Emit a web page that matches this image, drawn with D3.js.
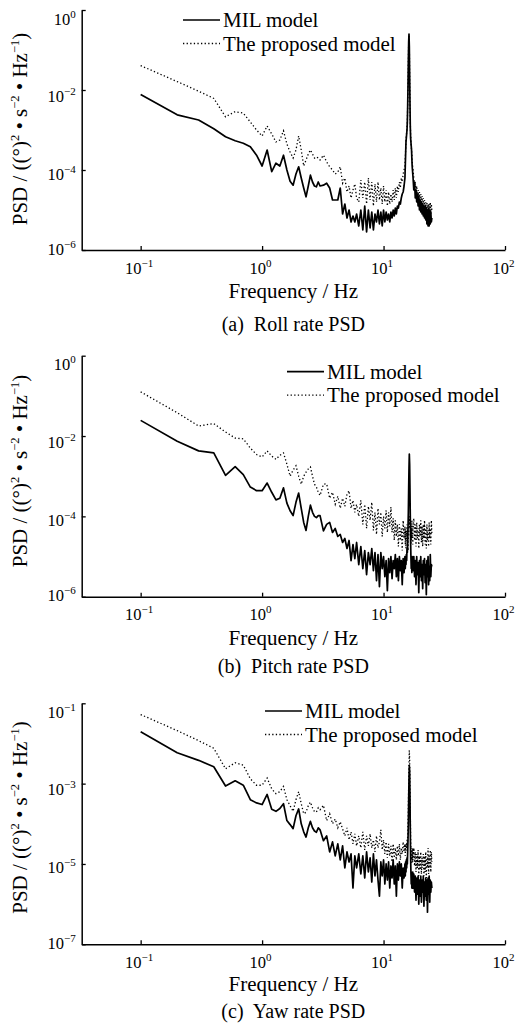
<!DOCTYPE html>
<html>
<head>
<meta charset="utf-8">
<script src="https://cdn.jsdelivr.net/npm/d3@7"></script>
<style>
  body { margin: 0; background: #fff; }
  svg { display: block; }
  svg text { font-family: "Liberation Serif", "Times New Roman", serif; }
</style>
</head>
<body>
<div id="chart"></div>
<script>
// frequency bins (Hz)
const freqHz = [
  0.1,0.2,0.3,0.4,0.5,0.6,0.7,0.8,0.9,1.0,1.1,1.2,1.3,1.4,1.5,1.6,1.7,1.8,1.9,2.0,2.1,2.2,2.3,2.4,2.5,2.6,2.7,2.8,2.9,3.0,
  3.2,3.4,3.6,3.8,4.0,4.2,4.4,4.6,4.8,5.0,5.2,5.4,5.6,5.8,6.0,
  6.25,6.5,6.75,7,7.25,7.5,7.75,8,8.25,8.5,8.75,9,9.25,9.5,9.75,10,10.25,10.5,10.75,11,11.25,11.5,11.75,12,12.25,12.5,12.75,13,13.25,13.5,13.75,14,14.25,14.5,14.75,15,
  15.1,15.2,15.3,15.4,15.5,15.6,15.7,15.8,15.9,16.0,16.1,16.2,16.3,16.4,16.5,16.6,16.7,16.8,16.9,17.0,17.1,17.2,17.3,17.4,17.5,
  17.75,18,18.25,18.5,18.75,19,19.25,19.5,19.75,20,20.25,20.5,20.75,21,21.25,21.5,21.75,22,22.25,22.5,22.75,23,23.25,23.5,23.75,24,24.25,24.5,24.75,25
];

// PSD values as log10 exponents
const rollMilLog = [
  -2.11,-2.62,-2.75,-2.97,-3.17,-3.27,-3.33,-3.42,-3.63,-3.9,-3.5,-4.04,-3.83,-3.9,-3.63,-4.0,-4.28,-4.38,-4.1,-3.92,-4.2,-4.45,-4.67,-4.4,-4.13,-4.3,-4.4,-4.42,-4.3,-4.4,
  -4.38,-4.33,-4.45,-4.75,-4.75,-4.75,-4.45,-5.1,-4.85,-5.2,-5.0,-5.3,-5.15,-5.3,-5.1,
  -5.4,-5.0,-5.5,-4.9,-5.55,-5.0,-5.45,-5.05,-5.5,-5.1,-5.3,-5.0,-5.35,-5.05,-5.4,-5.0,-5.3,-5.05,-5.25,-5.1,-5.3,-5.05,-5.2,-5.0,-5.15,-4.95,-5.1,-4.9,-4.95,-4.8,-4.85,-4.7,-4.6,-4.55,-4.4,-4.2,
  -3.9,-3.6,-3.3,-3.2,-3.1,-3.0,-2.8,-2.4,-1.9,-1.3,-0.8,-0.6,-0.9,-1.6,-2.3,-2.9,-3.2,-3.3,-3.4,-3.5,-3.7,-3.9,-4.0,-4.1,-4.2,
  -4.5,-4.3,-4.7,-4.5,-4.8,-4.6,-4.9,-4.65,-5.0,-4.75,-5.05,-4.8,-5.1,-4.85,-5.15,-4.9,-5.2,-4.9,-5.25,-4.95,-5.35,-5.0,-5.4,-4.95,-5.4,-5.0,-5.35,-5.05,-5.3,-5.2
];
const rollPropLog = [
  -1.39,-1.79,-2.03,-2.21,-2.67,-2.54,-2.58,-2.8,-3.0,-3.15,-2.9,-3.1,-3.3,-3.25,-3.02,-3.35,-3.55,-3.7,-3.5,-3.15,-3.5,-3.9,-3.75,-3.6,-3.5,-3.6,-3.7,-3.67,-3.7,-3.75,
  -3.63,-3.8,-3.92,-4.0,-4.1,-4.05,-3.92,-4.33,-4.2,-4.55,-4.4,-4.7,-4.5,-4.35,-4.7,
  -4.8,-4.25,-4.7,-4.3,-4.85,-4.2,-4.75,-4.3,-4.9,-4.35,-4.8,-4.3,-4.75,-4.45,-4.85,-4.4,-4.8,-4.5,-4.9,-4.55,-4.85,-4.6,-4.8,-4.5,-4.75,-4.45,-4.7,-4.4,-4.55,-4.3,-4.45,-4.2,-4.3,-4.1,-4.0,-3.9,
  -3.7,-3.5,-3.25,-3.15,-3.05,-2.95,-2.75,-2.4,-1.9,-1.3,-0.8,-0.62,-0.9,-1.6,-2.3,-2.8,-3.1,-3.25,-3.4,-3.5,-3.6,-3.75,-3.85,-3.95,-4.0,
  -4.2,-4.45,-4.3,-4.6,-4.4,-4.7,-4.5,-4.75,-4.55,-4.8,-4.6,-4.85,-4.65,-4.9,-4.7,-4.95,-4.75,-5.0,-4.8,-5.05,-4.8,-5.1,-4.85,-5.1,-4.85,-5.15,-4.8,-5.1,-4.85,-5.0
];
const pitchMilLog = [
  -1.61,-2.13,-2.37,-2.42,-2.98,-2.76,-2.96,-3.27,-3.36,-3.36,-3.17,-3.4,-3.59,-3.55,-3.29,-3.67,-3.86,-3.98,-3.65,-3.42,-3.8,-4.15,-4.35,-4.0,-3.72,-3.9,-4.0,-4.03,-3.98,-3.98,
  -4.36,-4.2,-4.15,-4.4,-4.3,-4.5,-4.45,-4.65,-4.55,-4.8,-4.6,-5.1,-4.7,-5.05,-4.65,
  -5.2,-4.75,-5.3,-4.85,-5.45,-4.9,-5.2,-4.8,-5.35,-4.9,-5.6,-4.95,-5.75,-4.9,-5.3,-5.0,-5.5,-5.1,-5.85,-5.05,-5.4,-5.0,-5.55,-5.1,-5.3,-4.95,-5.5,-5.05,-5.6,-5.0,-5.35,-5.1,-5.7,-5.05,-5.4,-5.0,
  -5.3,-5.0,-5.2,-4.95,-5.1,-4.8,-4.9,-4.6,-4.3,-3.9,-3.3,-2.8,-2.45,-2.7,-3.3,-4.0,-4.6,-5.0,-5.3,-5.1,-5.4,-5.0,-5.3,-5.05,-5.35,
  -5.0,-5.5,-5.1,-5.7,-5.0,-5.45,-5.15,-5.9,-5.1,-5.5,-5.0,-5.6,-5.2,-5.8,-5.1,-5.45,-5.05,-5.65,-5.2,-5.95,-5.1,-5.5,-5.0,-5.7,-5.25,-5.6,-4.95,-5.5,-5.2,-5.25
];
const pitchPropLog = [
  -0.9,-1.42,-1.75,-1.69,-1.9,-2.05,-2.07,-2.3,-2.46,-2.52,-2.37,-2.5,-2.58,-2.48,-2.42,-2.7,-3.0,-2.85,-2.74,-3.0,-3.2,-3.0,-2.9,-2.82,-2.77,-3.0,-3.2,-3.27,-3.4,-3.48,
  -3.2,-3.19,-3.55,-3.4,-3.7,-3.5,-3.8,-3.55,-3.75,-3.45,-3.36,-3.8,-3.6,-3.9,-3.7,
  -4.0,-3.6,-4.2,-3.7,-4.3,-3.75,-4.1,-3.65,-4.35,-3.9,-4.45,-3.8,-4.2,-3.9,-4.5,-4.0,-4.3,-3.85,-4.4,-3.9,-4.25,-3.77,-4.4,-4.05,-4.6,-4.1,-4.5,-4.2,-4.75,-4.2,-4.6,-4.3,-4.85,-4.1,-4.55,-4.25,
  -4.7,-4.3,-4.8,-4.4,-4.6,-4.2,-4.5,-4.3,-4.85,-4.4,-4.2,-4.0,-4.1,-4.3,-4.0,-4.5,-4.2,-4.7,-4.3,-4.6,-4.1,-4.5,-4.25,-4.7,-4.3,
  -4.05,-4.6,-4.2,-4.75,-4.15,-4.55,-4.3,-4.8,-4.2,-4.5,-4.1,-4.65,-4.25,-4.75,-4.2,-4.55,-4.1,-4.7,-4.3,-4.8,-4.2,-4.6,-4.35,-4.75,-4.15,-4.55,-4.3,-4.7,-4.1,-4.45
];
const yawMilLog = [
  -1.71,-2.23,-2.42,-2.58,-3.06,-2.93,-3.04,-3.4,-3.48,-3.52,-3.27,-3.64,-3.69,-3.62,-3.5,-3.92,-4.02,-4.12,-3.8,-3.63,-4.0,-4.2,-4.33,-4.1,-3.94,-4.1,-4.18,-4.21,-4.1,-4.15,
  -4.42,-4.3,-4.7,-4.45,-4.8,-4.5,-4.9,-4.55,-5.1,-4.7,-4.95,-4.75,-5.6,-4.8,-5.1,
  -4.75,-5.25,-4.8,-5.35,-4.7,-5.2,-4.85,-5.45,-4.75,-5.3,-4.9,-5.4,-5.8,-4.95,-5.3,-4.9,-5.5,-5.0,-5.4,-4.95,-5.6,-5.05,-5.35,-4.9,-5.5,-5.05,-5.8,-5.0,-5.4,-4.95,-5.3,-5.0,-5.6,-5.1,-5.35,-5.0,
  -5.3,-4.95,-5.2,-4.9,-5.1,-4.85,-5.0,-4.7,-4.4,-4.0,-3.4,-2.9,-2.55,-2.7,-3.3,-4.1,-4.8,-5.2,-5.5,-5.2,-5.6,-5.25,-5.5,-5.2,-5.6,
  -5.25,-5.7,-5.3,-5.9,-5.35,-5.75,-5.3,-6.0,-5.4,-5.8,-5.3,-5.95,-5.4,-5.7,-5.3,-6.05,-5.45,-5.8,-5.35,-5.9,-5.4,-6.2,-5.35,-5.75,-5.3,-5.95,-5.4,-5.7,-5.45,-5.6
];
const yawPropLog = [
  -1.28,-1.68,-1.93,-2.12,-2.63,-2.48,-2.54,-2.88,-3.04,-3.04,-2.86,-3.13,-3.25,-3.2,-3.07,-3.4,-3.55,-3.69,-3.4,-3.2,-3.5,-3.75,-3.71,-3.55,-3.46,-3.6,-3.7,-3.71,-3.6,-3.65,
  -3.54,-3.92,-3.75,-4.0,-3.88,-4.1,-3.95,-4.13,-4.3,-4.1,-4.4,-4.2,-4.5,-4.25,-4.55,
  -4.3,-4.6,-4.2,-4.65,-4.3,-4.55,-4.25,-4.6,-4.4,-4.7,-4.3,-4.6,-4.45,-4.15,-4.65,-4.4,-4.75,-4.45,-4.85,-4.5,-4.8,-4.55,-4.95,-4.5,-4.85,-4.6,-4.9,-4.55,-4.8,-4.5,-4.9,-4.6,-4.75,-4.45,-4.7,-4.5,
  -4.8,-4.55,-4.7,-4.5,-4.6,-4.4,-4.5,-4.3,-4.0,-3.6,-3.0,-2.5,-2.17,-2.4,-3.0,-3.7,-4.3,-4.7,-4.9,-4.6,-5.0,-4.65,-4.95,-4.6,-4.9,
  -4.6,-5.05,-4.7,-5.2,-4.75,-5.1,-4.65,-5.3,-4.8,-5.15,-4.7,-5.25,-4.85,-5.1,-4.75,-5.3,-4.8,-5.2,-4.7,-5.35,-4.85,-5.1,-4.6,-5.25,-4.8,-5.1,-4.65,-5.2,-4.7,-4.95
];

const xTicks = [0.1, 1, 10, 100];
const xTickExp = ["\u22121", "0", "1", "2"];
const seriesNames = ["MIL model", "The proposed model"];
const captions = ["(a)  Roll rate PSD", "(b)  Pitch rate PSD", "(c)  Yaw rate PSD"];
const yTicksA = [1, 1e-2, 1e-4, 1e-6], yExpA = ["0", "\u22122", "\u22124", "\u22126"];
const yTicksB = [1, 1e-2, 1e-4, 1e-6], yExpB = ["0", "\u22122", "\u22124", "\u22126"];
const yTicksC = [1e-1, 1e-3, 1e-5, 1e-7], yExpC = ["\u22121", "\u22123", "\u22125", "\u22127"];

const panels = [
  {mil: rollMilLog, prop: rollPropLog, ticks: yTicksA, exp: yExpA, caption: captions[0]},
  {mil: pitchMilLog, prop: pitchPropLog, ticks: yTicksB, exp: yExpB, caption: captions[1]},
  {mil: yawMilLog, prop: yawPropLog, ticks: yTicksC, exp: yExpC, caption: captions[2]}
];

// layout of each panel on the page
const layout = [
  {top: 10, bottom: 250, xlab: 297.5, cap: 331, ylab: 129, legX: 183, legY: 20},
  {top: 355.7, bottom: 596.7, xlab: 644.5, cap: 673, ylab: 471, legX: 287, legY: 371.7},
  {top: 703.3, bottom: 944.3, xlab: 991, cap: 1018, ylab: 817.5, legX: 265, legY: 711}
];
const yLabelDy = [14, 11, 9, 4];
const serif = "Liberation Serif, Times New Roman, serif";

const W = 516, H = 1029;
const svg = d3.select("#chart").append("svg")
    .attr("width", W).attr("height", H)
    .attr("font-family", serif);

const x = d3.scaleLog().domain([0.0327, 100]).range([81.7, 505]);

panels.forEach((p, i) => {
  const L = layout[i];
  const y = d3.scaleLog()
      .domain([p.ticks[p.ticks.length - 1], p.ticks[0]])
      .range([L.bottom, L.top]);
  const g = svg.append("g");

  // x axis
  const xa = g.append("g")
      .attr("transform", `translate(0,${L.bottom})`)
      .call(d3.axisBottom(x).tickValues(xTicks).tickSize(-4).tickSizeOuter(0).tickFormat(""))
      .attr("font-family", serif);
  xa.selectAll("text").remove();
  xa.selectAll(".tick").append("text")
      .attr("x", -2)
      .attr("y", 23.5)
      .attr("fill", "#000")
      .attr("text-anchor", "middle")
      .attr("font-size", 16.5)
      .each(function(d, k) {
        const t = d3.select(this);
        t.append("tspan").text("10");
        t.append("tspan").attr("dy", -7).attr("font-size", 11).text(xTickExp[k]);
      });

  // y axis
  const ya = g.append("g")
      .attr("transform", "translate(81.7,0)")
      .call(d3.axisLeft(y).tickValues(p.ticks).tickSize(-4).tickSizeOuter(0).tickFormat(""))
      .attr("font-family", serif);
  ya.selectAll("text").remove();
  ya.selectAll(".tick").append("text")
      .attr("x", -6)
      .attr("y", (d, k) => yLabelDy[k])
      .attr("fill", "#000")
      .attr("text-anchor", "end")
      .attr("font-size", 16.5)
      .each(function(d, k) {
        const t = d3.select(this);
        t.append("tspan").text("10");
        t.append("tspan").attr("dy", -7).attr("font-size", 11).text(p.exp[k]);
      });
  g.selectAll(".domain").attr("stroke", "#000").attr("stroke-width", 1.5);
  g.selectAll(".tick line").attr("stroke", "#000").attr("stroke-width", 1.3);

  // curves
  const line = d3.line()
      .x((d, k) => x(freqHz[k]))
      .y(d => y(Math.pow(10, d)));
  g.append("path")
      .datum(p.prop)
      .attr("fill", "none")
      .attr("stroke", "#000")
      .attr("stroke-width", 1.3)
      .attr("stroke-dasharray", "1.3,2.3")
      .attr("d", line);
  g.append("path")
      .datum(p.mil)
      .attr("fill", "none")
      .attr("stroke", "#000")
      .attr("stroke-width", 1.7)
      .attr("stroke-linejoin", "round")
      .attr("d", line);

  // legend
  const leg = g.append("g");
  [0, 1].forEach(k => {
    const ly = L.legY + k * 23.5;
    leg.append("line")
        .attr("x1", L.legX).attr("x2", L.legX + 37)
        .attr("y1", ly).attr("y2", ly)
        .attr("stroke", "#000")
        .attr("stroke-width", k === 0 ? 1.7 : 1.3)
        .attr("stroke-dasharray", k === 0 ? null : "1.3,2.3");
    leg.append("text")
        .attr("x", L.legX + 40).attr("y", ly + 7)
        .attr("font-size", 21)
        .text(seriesNames[k]);
  });

  // axis titles
  g.append("text")
      .attr("x", 293.3).attr("y", L.xlab)
      .attr("text-anchor", "middle")
      .attr("font-size", 21)
      .text("Frequency / Hz");

  const yl = g.append("text")
      .attr("transform", `translate(26.5,${L.ylab}) rotate(-90)`)
      .attr("text-anchor", "middle")
      .attr("font-size", 21);
  yl.append("tspan").text("PSD / ((\u00b0)");
  yl.append("tspan").attr("dy", -8).attr("font-size", 12.5).text("2");
  yl.append("tspan").attr("dy", 8).text(" \u2022 s");
  yl.append("tspan").attr("dy", -8).attr("font-size", 12.5).text("\u22122");
  yl.append("tspan").attr("dy", 8).text(" \u2022 Hz");
  yl.append("tspan").attr("dy", -8).attr("font-size", 12.5).text("\u22121");
  yl.append("tspan").attr("dy", 8).text(")");

  g.append("text")
      .attr("x", 293.3).attr("y", L.cap)
      .attr("text-anchor", "middle")
      .attr("font-size", 20)
      .style("white-space", "pre")
      .text(p.caption);
});
</script>
</body>
</html>
